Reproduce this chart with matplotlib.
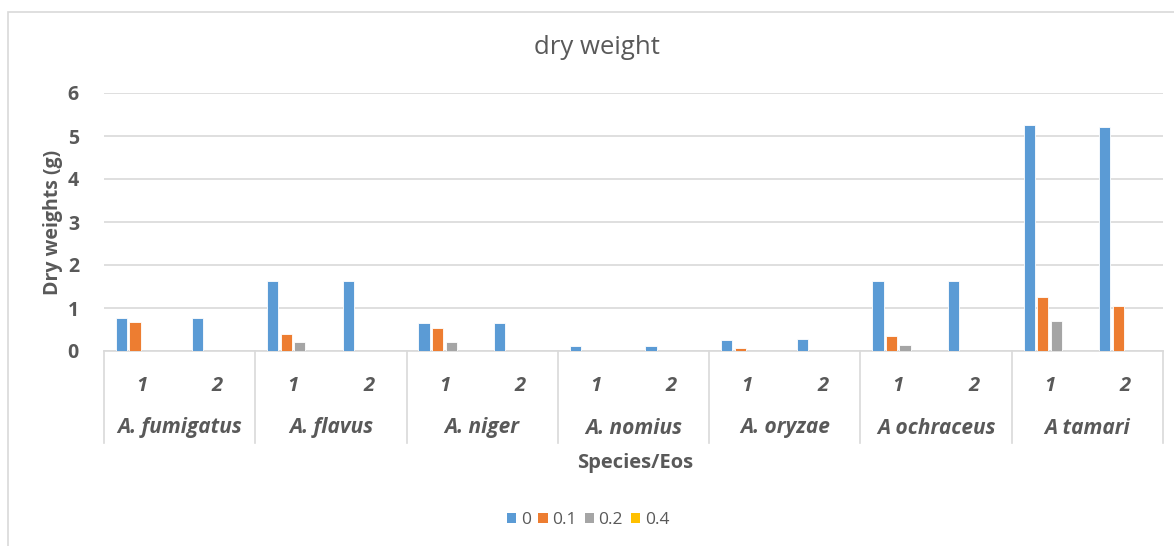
import numpy as np
import matplotlib.pyplot as plt
from matplotlib.patches import Patch, Rectangle
import matplotlib.transforms as mtrans

species = ['A. fumigatus', 'A. flavus', 'A. niger', 'A. nomius',
           'A. oryzae', 'A ochraceus', 'A tamari']
eos = ['1', '2']
series = ['0', '0.1', '0.2', '0.4']

# values per category (species x eos), in order
v00 = [0.76, 0.76, 1.62, 1.62, 0.66, 0.66, 0.11, 0.11, 0.25, 0.28, 1.62, 1.62, 5.26, 5.22]
v01 = [0.67, 0.0, 0.39, 0.0, 0.53, 0.0, 0.0, 0.0, 0.08, 0.0, 0.35, 0.0, 1.25, 1.04]
v02 = [0.0, 0.0, 0.21, 0.0, 0.21, 0.0, 0.0, 0.0, 0.0, 0.0, 0.15, 0.0, 0.70, 0.0]
v04 = [0.0] * 14

colors = ['#5B9BD5', '#ED7D31', '#A5A5A5', '#FFC000']
txt = '#595959'
grid = '#D9D9D9'

plt.rcParams['font.family'] = ['Open Sans', 'DejaVu Sans']

fig = plt.figure(figsize=(11.74, 5.46), dpi=100)
W, H = 1174, 546
ax = fig.add_axes([104 / W, 1 - 351 / H, (1163 - 104) / W, (351 - 93) / H])

# chart border
fig.patches.append(Rectangle((8 / W, -0.1), 1.2, 1 - 12 / H + 0.1, transform=fig.transFigure,
                             fill=False, edgecolor='#D9D9D9', linewidth=1.2))

x = np.arange(14)
slot = 0.179
for k, vals in enumerate([v00, v01, v02, v04]):
    ax.bar(x + (k - 1.5) * slot, vals, width=0.148, color=colors[k],
           edgecolor='white', linewidth=0.6, zorder=3)

ax.set_xlim(-0.5, 13.5)
ax.set_ylim(0, 6)
ax.set_yticks(range(7))
ax.yaxis.grid(True, color=grid, linewidth=1.2, zorder=0)
for s in ['top', 'right', 'left']:
    ax.spines[s].set_visible(False)
ax.spines['bottom'].set_color(grid)
ax.spines['bottom'].set_linewidth(1.2)
ax.tick_params(axis='y', length=0, pad=18, labelsize=14, labelcolor=txt)
for lab in ax.get_yticklabels():
    lab.set_fontweight('bold')

ax.set_xticks(x)
ax.set_xticklabels(eos * 7, fontsize=14.5, fontweight='bold', style='italic', color=txt)
ax.tick_params(axis='x', length=0, pad=18)

tr = mtrans.blended_transform_factory(ax.transData, ax.transAxes)
ah = 351 - 93
for i, name in enumerate(species):
    ax.text(2 * i + 0.5, -(428 - 351) / ah, name, transform=tr, ha='center', va='center',
            fontsize=15, fontweight='bold', style='italic', color=txt)
for b in np.arange(-0.5, 14, 2):
    ax.plot([b, b], [0, -(443 - 351) / ah], transform=tr, color=grid, linewidth=1.2,
            clip_on=False)

fig.text(597 / W, 1 - 47 / H, 'dry weight', ha='center', va='center', fontsize=18.5, color=txt)
fig.text(635 / W, 1 - 463 / H, 'Species/Eos', ha='center', va='center', fontsize=14.5,
         fontweight='bold', color=txt)
fig.text(53 / W, 1 - 222 / H, 'Dry weights (g)', ha='center', va='center', fontsize=14,
         fontweight='bold', color=txt, rotation=90)

handles = [Patch(facecolor=c) for c in colors]
fig.legend(handles, series, loc='center', bbox_to_anchor=(588 / W, 1 - 520 / H), ncol=4,
           frameon=False, handlelength=0.55, handleheight=0.55, handletextpad=0.25,
           columnspacing=0.45, labelcolor=txt, fontsize=12.5)

fig.savefig('out.png', dpi=100)
